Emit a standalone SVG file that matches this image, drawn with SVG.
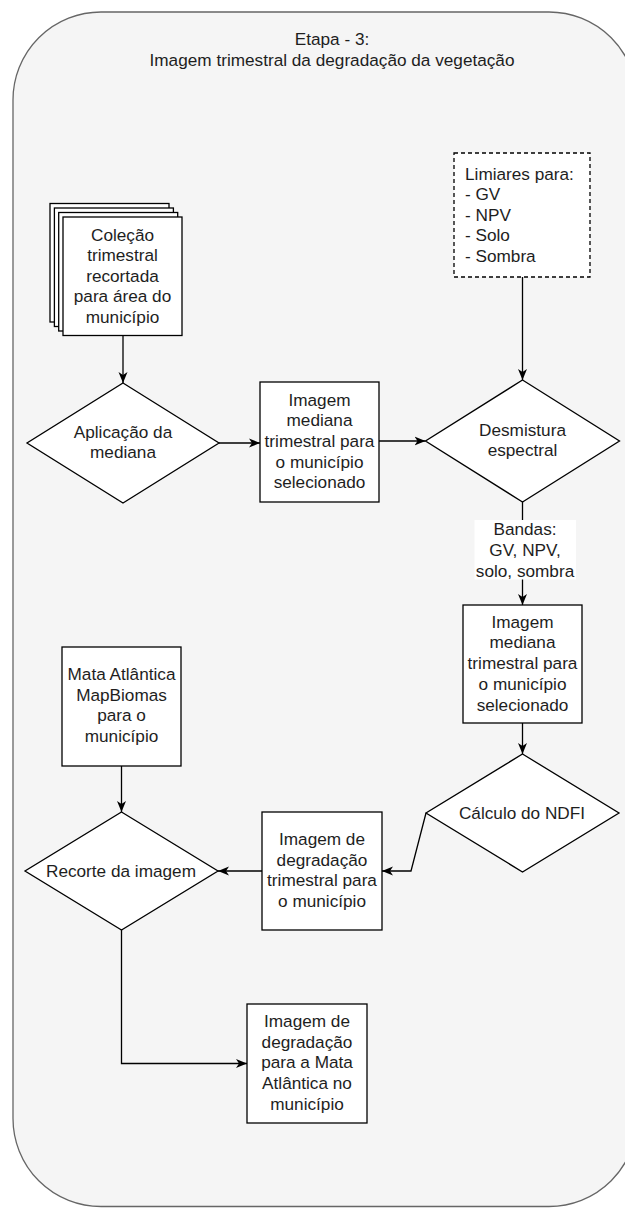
<svg xmlns="http://www.w3.org/2000/svg" width="625" height="1208" viewBox="0 0 625 1208">
<defs>
<marker id="arr" markerUnits="userSpaceOnUse" markerWidth="12" markerHeight="10" viewBox="0 0 12 10" refX="11" refY="5" orient="auto">
<path d="M0,0.5 L11,5 L0,9.5 L3,5 Z" fill="#000"/>
</marker>
<style>
.box{fill:#fff;stroke:#000;stroke-width:1.3}
.dash{fill:#fff;stroke:#000;stroke-width:1.3;stroke-dasharray:4 3}
.t{font-family:"Liberation Sans",Arial,sans-serif;font-size:17.2px;fill:#1e1e1e;text-anchor:middle}
.tl{font-family:"Liberation Sans",Arial,sans-serif;font-size:17.2px;fill:#1e1e1e;text-anchor:start}
.e{fill:none;stroke:#000;stroke-width:1.3;marker-end:url(#arr)}
</style>
</defs>
<g id="container">
<rect x="13" y="12" width="624" height="1194.5" rx="88" ry="88" fill="#f5f5f5" stroke="#666" stroke-width="1.3"/>
<text class="t" fill="#333"><tspan x="332" y="45.3">Etapa - 3:</tspan><tspan x="332" y="65.9">Imagem trimestral da degradação da vegetação</tspan></text>
</g>
<g id="connectors">
<path class="e" d="M123,335 L123,383"/>
<path class="e" d="M219,443 L260,443"/>
<path class="e" d="M379,441 L425.5,441"/>
<path class="e" d="M522.5,277 L522.5,380"/>
<path class="e" d="M522.5,502 L522.5,605"/>
<path class="e" d="M522.5,723 L522.5,754"/>
<path class="e" d="M426,813 L411,871 L382,871"/>
<path class="e" d="M262,871 L218,871"/>
<path class="e" d="M121.5,766 L121.5,812"/>
<path class="e" d="M121.5,930 L121.5,1063.5 L247,1063.5"/>
<g id="label-bandas">
<rect x="474.5" y="520" width="101.5" height="59.5" fill="#fff"/>
<text class="t"><tspan x="525" y="535">Bandas:</tspan><tspan x="525" y="555.8">GV, NPV,</tspan><tspan x="525" y="576.6">solo, sombra</tspan></text>
</g>
</g>
<g id="colecao">
<rect class="box" x="50" y="203.5" width="119" height="118.5"/>
<rect class="box" x="54.4" y="208" width="119" height="118.5"/>
<rect class="box" x="58.7" y="212.5" width="119" height="118.5"/>
<rect class="box" x="63" y="217" width="119" height="118.5"/>
<text class="t"><tspan x="122.5" y="240.5">Coleção</tspan><tspan x="122.5" y="261.1">trimestral</tspan><tspan x="122.5" y="281.7">recortada</tspan><tspan x="122.5" y="302.3">para área do</tspan><tspan x="122.5" y="322.9">município</tspan></text>
</g>
<g id="aplicacao">
<polygon class="box" points="123,383 219,443 123,503 27,443"/>
<text class="t"><tspan x="123" y="437.8">Aplicação da</tspan><tspan x="123" y="458.4">mediana</tspan></text>
</g>
<g id="mediana1">
<rect class="box" x="260" y="382" width="119" height="120"/>
<text class="t"><tspan x="319.5" y="405.8">Imagem</tspan><tspan x="319.5" y="426.4">mediana</tspan><tspan x="319.5" y="447">trimestral para</tspan><tspan x="319.5" y="467.6">o município</tspan><tspan x="319.5" y="488.2">selecionado</tspan></text>
</g>
<g id="limiares">
<rect class="dash" x="454" y="153" width="136" height="124"/>
<text class="tl"><tspan x="465" y="179.5">Limiares para:</tspan><tspan x="465" y="200.1">- GV</tspan><tspan x="465" y="220.7">- NPV</tspan><tspan x="465" y="241.3">- Solo</tspan><tspan x="465" y="261.9">- Sombra</tspan></text>
</g>
<g id="desmistura">
<polygon class="box" points="522.5,380 619.5,441 522.5,502 425.5,441"/>
<text class="t"><tspan x="522.5" y="435.8">Desmistura</tspan><tspan x="522.5" y="456.4">espectral</tspan></text>
</g>
<g id="mediana2">
<rect class="box" x="463" y="605" width="119" height="118"/>
<text class="t"><tspan x="522.5" y="627.5">Imagem</tspan><tspan x="522.5" y="648.3">mediana</tspan><tspan x="522.5" y="669.1">trimestral para</tspan><tspan x="522.5" y="689.9">o município</tspan><tspan x="522.5" y="710.7">selecionado</tspan></text>
</g>
<g id="ndfi">
<polygon class="box" points="522.5,754 619,813 522.5,872 426,813"/>
<text class="t" x="522" y="818.5">Cálculo do NDFI</text>
</g>
<g id="degradacao">
<rect class="box" x="262" y="812" width="120" height="118"/>
<text class="t"><tspan x="322" y="845">Imagem de</tspan><tspan x="322" y="865.6">degradação</tspan><tspan x="322" y="886.2">trimestral para</tspan><tspan x="322" y="906.8">o município</tspan></text>
</g>
<g id="mapbiomas">
<rect class="box" x="62" y="647" width="119" height="119"/>
<text class="t"><tspan x="121.5" y="680.2">Mata Atlântica</tspan><tspan x="121.5" y="700.8">MapBiomas</tspan><tspan x="121.5" y="721.4">para o</tspan><tspan x="121.5" y="742">município</tspan></text>
</g>
<g id="recorte">
<polygon class="box" points="121.5,812 218,871 121.5,930 25,871"/>
<text class="t" x="121" y="876.5">Recorte da imagem</text>
</g>
<g id="final">
<rect class="box" x="247" y="1004" width="120" height="119"/>
<text class="t"><tspan x="307" y="1027.2">Imagem de</tspan><tspan x="307" y="1047.8">degradação</tspan><tspan x="307" y="1068.4">para a Mata</tspan><tspan x="307" y="1089">Atlântica no</tspan><tspan x="307" y="1109.6">município</tspan></text>
</g>
</svg>
